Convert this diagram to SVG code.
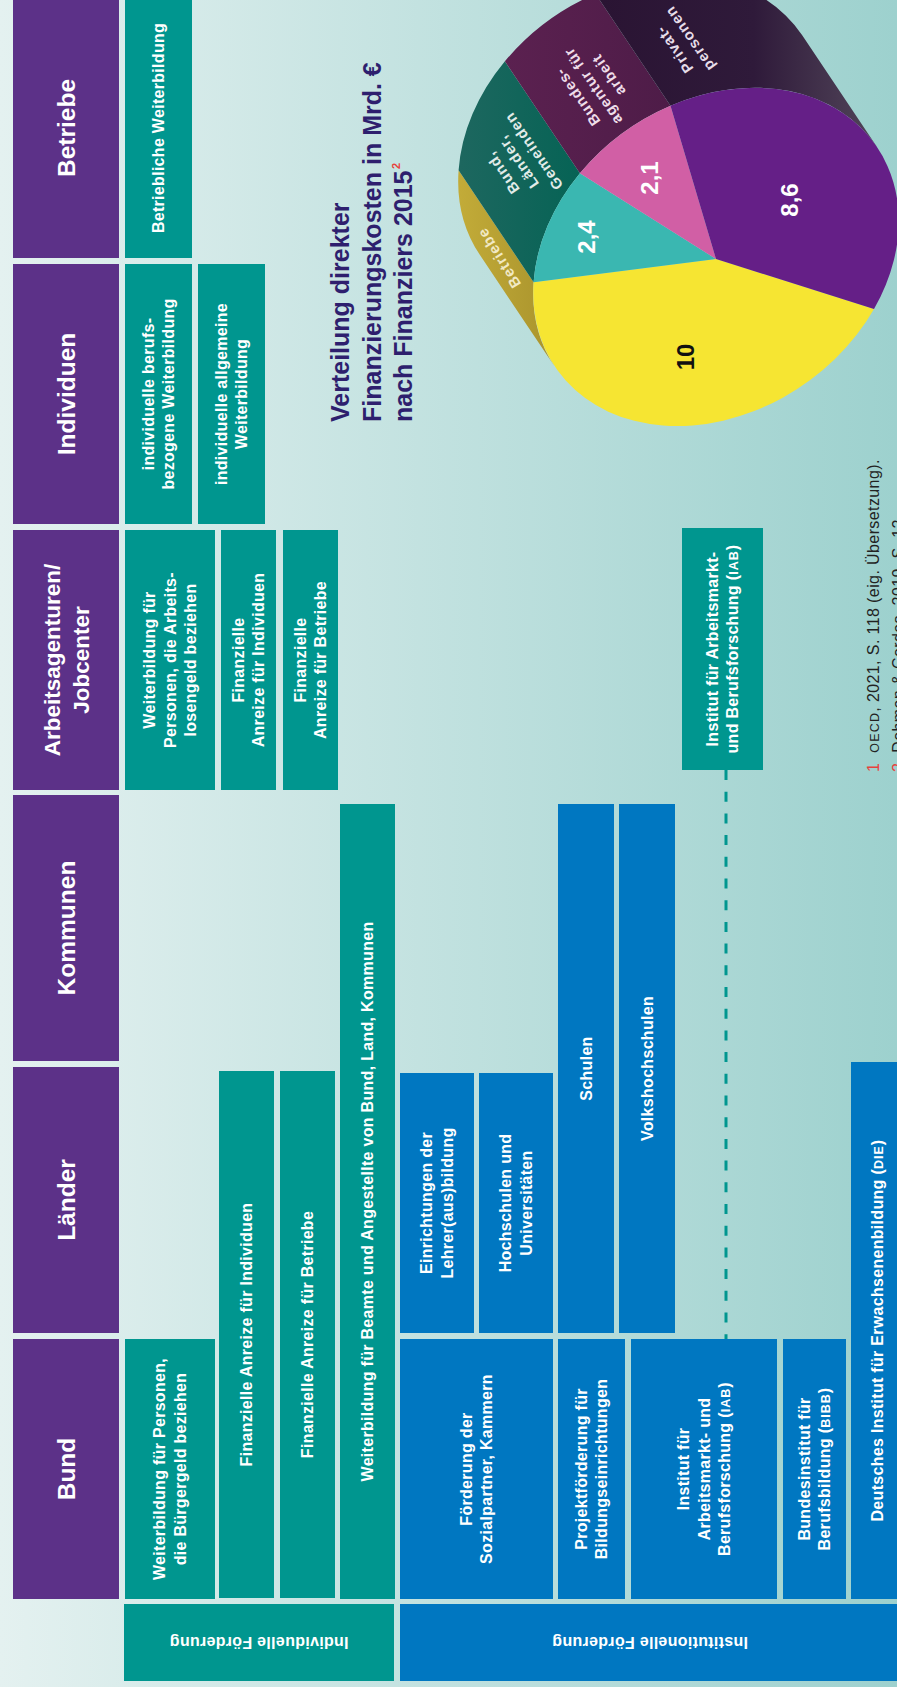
<svg xmlns="http://www.w3.org/2000/svg" width="897" height="1687" viewBox="0 0 897 1687">
<defs>
<linearGradient id="bg" x1="0" y1="0" x2="897" y2="0" gradientUnits="userSpaceOnUse">
<stop offset="0" stop-color="#e4f1f0"/><stop offset="1" stop-color="#9dd1ce"/>
</linearGradient>
<linearGradient id="gGold" x1="460" y1="0" x2="560" y2="0" gradientUnits="userSpaceOnUse">
<stop offset="0" stop-color="#c2ab38"/><stop offset="1" stop-color="#a8922c"/>
</linearGradient>
<linearGradient id="gTeal" x1="460" y1="0" x2="580" y2="0" gradientUnits="userSpaceOnUse">
<stop offset="0" stop-color="#1d675f"/><stop offset="1" stop-color="#066355"/>
</linearGradient>
<linearGradient id="gPlum" x1="505" y1="0" x2="670" y2="0" gradientUnits="userSpaceOnUse">
<stop offset="0" stop-color="#5b2150"/><stop offset="1" stop-color="#4e1c48"/>
</linearGradient>
<linearGradient id="gDark" x1="600" y1="0" x2="880" y2="0" gradientUnits="userSpaceOnUse">
<stop offset="0" stop-color="#2a1433"/><stop offset="0.55" stop-color="#2f1a3a"/><stop offset="1" stop-color="#52465a"/>
</linearGradient>
<style>
.hd{fill:#5c3188}
.tl{fill:#00968f}
.bl{fill:#0077c1}
.ht{font-family:"Liberation Sans",Arial,sans-serif;font-weight:bold;font-size:24.5px;fill:#ffffff;text-anchor:middle}
.t{font-family:"Liberation Sans",Arial,sans-serif;font-weight:bold;font-size:16px;fill:#ffffff;text-anchor:middle;letter-spacing:0.3px}
.sc{font-size:12.5px;letter-spacing:1px}
.ti{font-family:"Liberation Sans",Arial,sans-serif;font-weight:bold;font-size:25px;fill:#2e1f6e}
.pn{font-family:"Liberation Sans",Arial,sans-serif;font-weight:bold;font-size:24px;text-anchor:middle}
.sl{font-family:"Liberation Sans",Arial,sans-serif;font-weight:bold;font-size:15px;text-anchor:middle;letter-spacing:1px}
.fn{font-family:"Liberation Sans",Arial,sans-serif;font-size:16px;fill:#222222;letter-spacing:0.4px}
.red{fill:#e8413c}
</style>
</defs>
<rect x="0" y="0" width="897" height="1687" fill="url(#bg)"/>

<!-- header column -->
<g id="h-bund"><rect class="hd" x="13" y="1339" width="106" height="260"/><text class="ht" transform="translate(66 1469) rotate(-90)" y="8.6">Bund</text></g>
<g id="h-laender"><rect class="hd" x="13" y="1067" width="106" height="266"/><text class="ht" transform="translate(66 1200) rotate(-90)" y="8.6">Länder</text></g>
<g id="h-kommunen"><rect class="hd" x="13" y="795" width="106" height="266"/><text class="ht" transform="translate(66 928) rotate(-90)" y="8.6">Kommunen</text></g>
<g id="h-arbeit"><rect class="hd" x="13" y="530" width="106" height="260"/><text class="ht" style="font-size:22.5px" transform="translate(66 660) rotate(-90)"><tspan x="0" y="-6.5">Arbeitsagenturen/</tspan><tspan x="0" y="22.5">Jobcenter</tspan></text></g>
<g id="h-individuen"><rect class="hd" x="13" y="264" width="106" height="260"/><text class="ht" transform="translate(66 394) rotate(-90)" y="8.6">Individuen</text></g>
<g id="h-betriebe"><rect class="hd" x="13" y="-2" width="106" height="260"/><text class="ht" transform="translate(66 128) rotate(-90)" y="8.6">Betriebe</text></g>

<!-- individuelle Förderung -->
<g id="i-bund-buergergeld"><rect class="tl" x="125" y="1339" width="90" height="260"/><text class="t" transform="translate(170 1469) rotate(-90)"><tspan x="0" y="-4.7">Weiterbildung für Personen,</tspan><tspan x="0" y="15.8">die Bürgergeld beziehen</tspan></text></g>
<g id="i-bund-anreiz-ind"><rect class="tl" x="219" y="1071" width="55" height="527"/><text class="t" transform="translate(246.5 1334.5) rotate(-90)" y="5.6">Finanzielle Anreize für Individuen</text></g>
<g id="i-bund-anreiz-betr"><rect class="tl" x="280" y="1071" width="55" height="527"/><text class="t" transform="translate(307.5 1334.5) rotate(-90)" y="5.6">Finanzielle Anreize für Betriebe</text></g>
<g id="i-beamte"><rect class="tl" x="340" y="804" width="55" height="795"/><text class="t" transform="translate(367.5 1201.5) rotate(-90)" y="5.6">Weiterbildung für Beamte und Angestellte von Bund, Land, Kommunen</text></g>
<g id="i-aa-alg"><rect class="tl" x="125" y="530" width="90" height="260"/><text class="t" transform="translate(170 660) rotate(-90)"><tspan x="0" y="-14.9">Weiterbildung für</tspan><tspan x="0" y="5.6">Personen, die Arbeits-</tspan><tspan x="0" y="26.1">losengeld beziehen</tspan></text></g>
<g id="i-aa-anreiz-ind"><rect class="tl" x="221" y="530" width="55" height="260"/><text class="t" transform="translate(248.5 660) rotate(-90)"><tspan x="0" y="-4.7">Finanzielle</tspan><tspan x="0" y="15.8">Anreize für Individuen</tspan></text></g>
<g id="i-aa-anreiz-betr"><rect class="tl" x="283" y="530" width="55" height="260"/><text class="t" transform="translate(310.5 660) rotate(-90)"><tspan x="0" y="-4.7">Finanzielle</tspan><tspan x="0" y="15.8">Anreize für Betriebe</tspan></text></g>
<g id="i-ind-beruf"><rect class="tl" x="125" y="264" width="67" height="260"/><text class="t" transform="translate(158.5 394) rotate(-90)"><tspan x="0" y="-4.7">individuelle berufs-</tspan><tspan x="0" y="15.8">bezogene Weiterbildung</tspan></text></g>
<g id="i-ind-allg"><rect class="tl" x="198" y="264" width="67" height="260"/><text class="t" transform="translate(231.5 394) rotate(-90)"><tspan x="0" y="-4.7">individuelle allgemeine</tspan><tspan x="0" y="15.8">Weiterbildung</tspan></text></g>
<g id="i-betrieblich"><rect class="tl" x="125" y="-2" width="67" height="260"/><text class="t" transform="translate(158.5 128) rotate(-90)" y="5.6">Betriebliche Weiterbildung</text></g>
<g id="label-individuell"><rect class="tl" x="124" y="1604" width="270" height="77"/><text class="t" transform="translate(259 1642.5) rotate(180)" y="5.6">Individuelle Förderung</text></g>

<!-- institutionelle Förderung -->
<g id="b-sozialpartner"><rect class="bl" x="400" y="1339" width="153" height="260"/><text class="t" transform="translate(476.5 1469) rotate(-90)"><tspan x="0" y="-4.7">Förderung der</tspan><tspan x="0" y="15.8">Sozialpartner, Kammern</tspan></text></g>
<g id="b-projekt"><rect class="bl" x="558" y="1339" width="67" height="260"/><text class="t" transform="translate(591.5 1469) rotate(-90)"><tspan x="0" y="-4.7">Projektförderung für</tspan><tspan x="0" y="15.8">Bildungseinrichtungen</tspan></text></g>
<g id="b-iab"><rect class="bl" x="631" y="1339" width="146" height="260"/><text class="t" transform="translate(704 1469) rotate(-90)"><tspan x="0" y="-14.9">Institut für</tspan><tspan x="0" y="5.6">Arbeitsmarkt- und</tspan><tspan x="0" y="26.1">Berufsforschung (<tspan class="sc">IAB</tspan>)</tspan></text></g>
<g id="b-bibb"><rect class="bl" x="783" y="1339" width="63" height="260"/><text class="t" transform="translate(814.5 1469) rotate(-90)"><tspan x="0" y="-4.7">Bundesinstitut für</tspan><tspan x="0" y="15.8">Berufsbildung (<tspan class="sc">BIBB</tspan>)</tspan></text></g>
<g id="b-die"><rect class="bl" x="851" y="1062" width="60" height="537"/><text class="t" transform="translate(877 1330.5) rotate(-90)" y="5.6">Deutsches Institut für Erwachsenenbildung (<tspan class="sc">DIE</tspan>)</text></g>
<g id="b-lehrer"><rect class="bl" x="400" y="1073" width="74" height="260"/><text class="t" transform="translate(437 1203) rotate(-90)"><tspan x="0" y="-4.7">Einrichtungen der</tspan><tspan x="0" y="15.8">Lehrer(aus)bildung</tspan></text></g>
<g id="b-hochschulen"><rect class="bl" x="479" y="1073" width="74" height="260"/><text class="t" transform="translate(516 1203) rotate(-90)"><tspan x="0" y="-4.7">Hochschulen und</tspan><tspan x="0" y="15.8">Universitäten</tspan></text></g>
<g id="b-schulen"><rect class="bl" x="558" y="804" width="56" height="529"/><text class="t" transform="translate(586 1068.5) rotate(-90)" y="5.6">Schulen</text></g>
<g id="b-vhs"><rect class="bl" x="619" y="804" width="56" height="529"/><text class="t" transform="translate(647 1068.5) rotate(-90)" y="5.6">Volkshochschulen</text></g>
<g id="t-iab-aa"><rect class="tl" x="682" y="528" width="81" height="242"/><text class="t" transform="translate(722.5 649) rotate(-90)"><tspan x="0" y="-4.7">Institut für Arbeitsmarkt-</tspan><tspan x="0" y="15.8">und Berufsforschung (<tspan class="sc">IAB</tspan>)</tspan></text></g>
<g id="label-institutionell"><rect class="bl" x="400" y="1604" width="510" height="77"/><text class="t" transform="translate(650 1642.5) rotate(180)" y="5.6">Institutionelle Förderung</text></g>

<!-- connectors -->
<g id="connectors">
<line x1="726" y1="770" x2="726" y2="1339" stroke="#00968f" stroke-width="3" stroke-dasharray="10 11.7"/>
</g>

<!-- chart title -->
<g id="chart-title">
<text class="ti" transform="translate(349 422) rotate(-90)"><tspan x="0" y="0">Verteilung direkter</tspan><tspan x="0" y="31.5">Finanzierungskosten in Mrd. €</tspan><tspan x="0" y="63">nach Finanziers 2015</tspan></text>
<text class="ti red" style="font-size:11px" transform="translate(400 169) rotate(-90)">2</text>
</g>

<!-- pie chart -->
<g id="pie">
<path d="M533.6 282.2 L458.6 170.2 A195 155 -35 0 0 479.8 254.8 L554.8 366.8 A195 155 -35 0 1 533.6 282.2 Z" fill="url(#gGold)"/>
<path d="M533.6 282.2 L458.6 170.2 A195 155 -35 0 1 504.9 61.3 L579.9 173.3 A195 155 -35 0 0 533.6 282.2 Z" fill="url(#gTeal)"/>
<path d="M579.9 173.3 L504.9 61.3 A195 155 -35 0 1 595.5 -6.2 L670.5 105.8 A195 155 -35 0 0 579.9 173.3 Z" fill="url(#gPlum)"/>
<path d="M670.5 105.8 L595.5 -6.2 A195 155 -35 0 1 802.2 35.2 L877.2 147.2 A195 155 -35 0 0 670.5 105.8 Z" fill="url(#gDark)"/>
<path d="M716 259 L874 309 A195 155 -35 0 1 533.6 282.2 Z" fill="#f6e532"/>
<path d="M716 259 L533.6 282.2 A195 155 -35 0 1 579.9 173.3 Z" fill="#3ab7b1"/>
<path d="M716 259 L579.9 173.3 A195 155 -35 0 1 670.5 105.8 Z" fill="#d15fa5"/>
<path d="M716 259 L670.5 105.8 A195 155 -35 0 1 874 309 Z" fill="#651f87"/>
<text class="pn" fill="#111111" transform="translate(685 357) rotate(-90)" y="8.5">10</text>
<text class="pn" fill="#ffffff" transform="translate(789 200) rotate(-90)" y="8.5">8,6</text>
<text class="pn" fill="#ffffff" transform="translate(586 237) rotate(-90)" y="8.5">2,4</text>
<text class="pn" fill="#ffffff" transform="translate(649 178) rotate(-90)" y="8.5">2,1</text>
<text class="sl" fill="#f1e9c4" transform="translate(499 258) rotate(-122)" y="5.2">Betriebe</text>
<text class="sl" fill="#e2ece9" transform="translate(518 162) rotate(-125)"><tspan x="0" y="-13.8">Bund,</tspan><tspan x="0" y="5.2">Länder,</tspan><tspan x="0" y="24.2">Gemeinden</tspan></text>
<text class="sl" fill="#eedde9" transform="translate(593 86) rotate(-125)"><tspan x="0" y="-13.8">Bundes-</tspan><tspan x="0" y="5.2">agentur für</tspan><tspan x="0" y="24.2">arbeit</tspan></text>
<text class="sl" fill="#e6dde9" transform="translate(682 44) rotate(-125)"><tspan x="0" y="-4.3">Privat-</tspan><tspan x="0" y="14.7">personen</tspan></text>
</g>

<!-- footnotes -->
<g id="footnotes">
<text class="fn" transform="translate(879 772) rotate(-90)"><tspan class="red">1</tspan><tspan dx="10"><tspan style="font-size:12.5px;letter-spacing:1.2px">OECD</tspan>, 2021, S. 118 (eig. Übersetzung).</tspan></text>
<text class="fn" transform="translate(904 772) rotate(-90)"><tspan class="red">2</tspan><tspan dx="10">Dohmen &amp; Cordes, 2019, S. 12</tspan></text>
</g>
</svg>
